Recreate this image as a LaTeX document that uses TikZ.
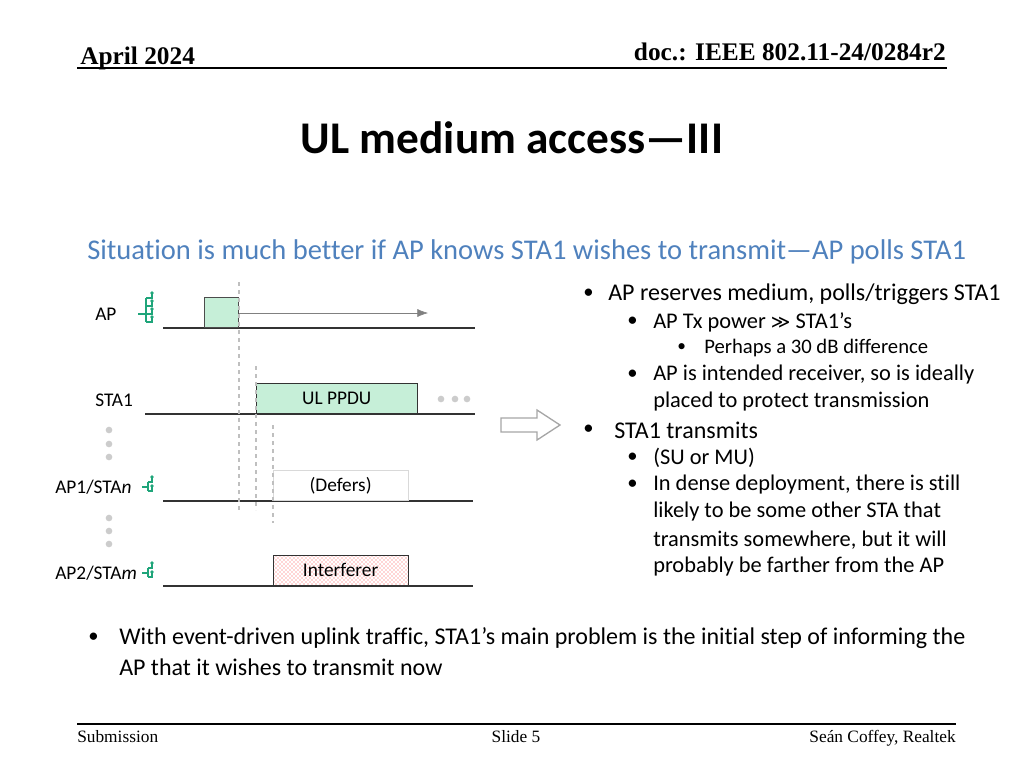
\documentclass[tikz,border=0pt]{standalone}
\usepackage{fontspec}
\setmainfont[Ligatures=NoCommon]{Carlito}
\newfontfamily\tnr{Liberation Serif}
\newfontfamily\djv{DejaVu Sans}
\usetikzlibrary{patterns,arrows.meta}
\definecolor{grn}{HTML}{C6EFD8}
\definecolor{ant}{HTML}{1FA57A}
\definecolor{blu}{HTML}{4F81BD}
\begin{document}
\begin{tikzpicture}[x=0.75pt,y=-0.75pt,
  lbl/.style={font=\fontsize{14.5}{16}\selectfont,anchor=west,inner sep=0},
  tl/.style={draw=black!80,line width=0.8pt},
  vd/.style={draw=gray!50,dashed,line width=0.8pt},
  dot/.style={circle,fill=gray!40,inner sep=0,minimum size=5pt},
  bul/.style={anchor=west,inner sep=0,align=left},
  fa/.style={font=\fontsize{18}{20}\selectfont},
  fb/.style={font=\fontsize{16.8}{19}\selectfont},
  fc/.style={font=\fontsize{15.5}{18}\selectfont}]
\useasboundingbox (0,0) rectangle (1024,768);
% header
\node[anchor=base west,inner sep=0,font=\tnr\bfseries\fontsize{19}{21}\selectfont] (hd) at (80,64) {April 2024};
\node[anchor=base east,inner sep=0,font=\tnr\bfseries\fontsize{19}{21}\selectfont] (dc) at (946,60) {doc.: IEEE 802.11-24/0284r2};
\draw[line width=1pt] (77,68) -- (947,68);
\node[font=\bfseries\fontsize{34}{38}\selectfont,inner sep=0] (t) at (512,138) {UL medium access—III};
\node[font=\fontsize{21.4}{24}\selectfont,text=blu,anchor=west,inner sep=0] (s) at (87,252) {Situation is much better if AP knows STA1 wishes to transmit—AP polls STA1};
% diagram
\node[lbl] (ap) at (95,314) {AP};
\node[lbl] (sta1) at (95,400) {STA1};
\node[lbl] (ap1) at (55,487) {AP1/STA\textit{n}};
\node[lbl] (ap2) at (55,573) {AP2/STA\textit{m}};
\draw[tl] (163,328) -- (475,328);
\draw[tl] (145,414) -- (475,414);
\draw[tl] (163,501) -- (473,501);
\draw[tl] (163,586) -- (473,586);
\node[draw=black!70,fill=grn,inner sep=0,anchor=south west,minimum width=25.5pt,minimum height=22.5pt] (apb) at (204,328) {};
\draw[-{Latex[length=8pt]},gray] (239,313) -- (428,313);
\node[draw=black!80,fill=grn,anchor=south west,inner sep=0,minimum width=120.75pt,minimum height=23pt,font=\fontsize{14.5}{16}\selectfont] (ul) at (256,414) {UL PPDU};
\node[draw=gray!30,anchor=south west,inner sep=0,minimum width=101pt,minimum height=23pt,font=\fontsize{14.5}{16}\selectfont] (df) at (273,501) {(Defers)};
\node[draw=black!80,pattern=crosshatch dots,pattern color=red!70,anchor=south west,inner sep=0,minimum width=101pt,minimum height=23pt] (itf) at (273,586) {};
\node[font=\fontsize{14.5}{16}\selectfont] at (itf) {Interferer};
\draw[vd] (239,282) -- (239,510);
\draw[vd] (256,366) -- (256,510);
\draw[vd] (273,425) -- (273,523);
\foreach \y in {430,444,457,518,531,544} \node[dot] at (109,\y) {};
\foreach \x in {441,455,467} \node[dot] at (\x,399) {};
% antennas
\begin{scope}[draw=ant,line width=1pt]
\draw (138,314) -- (146,314) (146,298) -- (146,322);
\foreach \y in {298,306,314,322} {\draw (146,\y) -- (152,\y) -- (152,\y-4); \fill[ant] (152,\y-5) circle (1.8);}
\draw (142,487) -- (148,487) (148,482) -- (148,491) (148,491) -- (152,491) -- (152,487) (148,482) -- (152,482) -- (152,478);
\fill[ant] (152,477) circle (1.8); \fill[ant] (152,486) circle (1.8);
\draw (142,573) -- (148,573) (148,568) -- (148,577) (148,577) -- (152,577) -- (152,573) (148,568) -- (152,568) -- (152,564);
\fill[ant] (152,563) circle (1.8); \fill[ant] (152,572) circle (1.8);
\end{scope}
% arrow
\draw[gray!70,line width=1pt] (501,418) -- (537,418) -- (537,410) -- (560,425) -- (537,440) -- (537,432) -- (501,432) -- cycle;
% bullets
\node[bul,fc] (m1) at (583,294) {•}; \node[bul,fa] (b1) at (608,294) {AP reserves medium, polls/triggers STA1};
\node[bul,fc] (m2) at (627,322) {•}; \node[bul,fb] (b2) at (653,322) {AP Tx power {\djv\fontsize{14}{16}\selectfont ≫} STA1’s};
\node[bul,font=\fontsize{13}{15}\selectfont] (m3) at (677,348) {•}; \node[bul,fc] (b3) at (704,348) {Perhaps a 30 dB difference};
\node[bul,fc] (m4) at (627,375) {•}; \node[bul,fb] (b4) at (653,375) {AP is intended receiver, so is ideally};
\node[bul,fb] (b4b) at (653,402) {placed to protect transmission};
\node[bul,fc] (m5) at (583,430) {•}; \node[bul,fa] (b5) at (614,430) {STA1 transmits};
\node[bul,fc] (m6) at (627,458) {•}; \node[bul,fb] (b6) at (653,458) {(SU or MU)};
\node[bul,fc] (m7) at (627,485) {•}; \node[bul,fb] (b7) at (653,485) {In dense deployment, there is still};
\node[bul,fb] (b7b) at (653,512) {likely to be some other STA that};
\node[bul,fb] (b7c) at (653,540) {transmits somewhere, but it will};
\node[bul,fb] (b7d) at (653,567) {probably be farther from the AP};
\node[bul,fc] (b8) at (88,638) {•};
\node[bul,fa] (b8a) at (119,638) {With event-driven uplink traffic, STA1’s main problem is the initial step of informing the};
\node[bul,fa] (b8b) at (119,667) {AP that it wishes to transmit now};
% footer
\draw[line width=1pt] (77,724) -- (956,724);
\node[anchor=base west,inner sep=0,font=\tnr\fontsize{13}{15}\selectfont] (f1) at (77,742) {Submission};
\node[anchor=base,inner sep=0,font=\tnr\fontsize{13}{15}\selectfont] (f2) at (516,742) {Slide 5};
\node[anchor=base east,inner sep=0,font=\tnr\fontsize{13}{15}\selectfont] (f3) at (956,742) {Seán Coffey, Realtek};
\end{tikzpicture}
\end{document}
